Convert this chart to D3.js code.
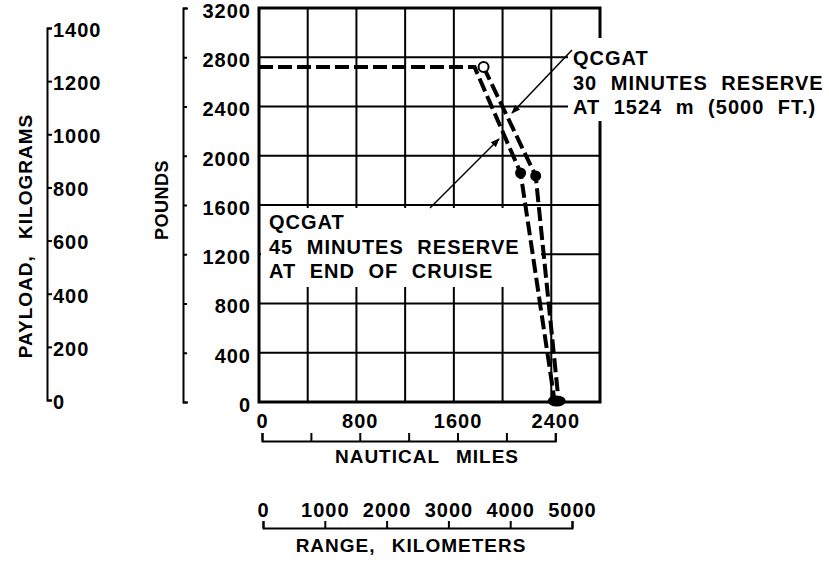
<!DOCTYPE html>
<html>
<head>
    <meta charset="utf-8">
    <title>QCGAT payload - range</title>
    <script src="https://d3js.org/d3.v7.min.js"></script>
    <style>
        body { margin: 0; background: #fff; }
        text { font-family: "Liberation Sans", Arial, sans-serif; font-weight: bold; fill: #000; }
    </style>
</head>
<body>
    <div id="chart"></div>

    <script>
        // Curves (range in nautical miles, payload in pounds)
        var range45 = [0, 1770, 2148, 2428];
        var payload45 = [2720, 2720, 1860, 0];
        var range30 = [1844, 2272, 2461];
        var payload30 = [2720, 1836, 0];

        // Axis ticks
        var nmTicks = [0, 400, 800, 1200, 1600, 2000, 2400, 2800];
        var nmLabels = [0, 800, 1600, 2400];
        var lbTicks = [0, 400, 800, 1200, 1600, 2000, 2400, 2800, 3200];
        var kgTicks = [0, 200, 400, 600, 800, 1000, 1200, 1400];
        var kmTicks = [0, 1000, 2000, 3000, 4000, 5000];

        var svg = d3.select("#chart")
            .append("svg")
            .attr("width", 829)
            .attr("height", 563);

        var x = d3.scaleLinear().domain([0, 2800]).range([259, 600]);
        var y = d3.scaleLinear().domain([0, 3200]).range([402, 8]);
        var yKg = d3.scaleLinear().domain([0, 1400]).range([400, 28]);
        var xKm = d3.scaleLinear().domain([0, 5000]).range([263, 572]);

        // grid
        var grid = svg.append("g").attr("stroke", "#000").attr("stroke-width", 2);
        grid.selectAll(".v")
            .data(nmTicks)
            .enter().append("line")
            .attr("x1", function (d) { return x(d); })
            .attr("x2", function (d) { return x(d); })
            .attr("y1", y(0))
            .attr("y2", y(3200));
        grid.selectAll(".h")
            .data(lbTicks)
            .enter().append("line")
            .attr("x1", x(0))
            .attr("x2", x(2800))
            .attr("y1", function (d) { return y(d); })
            .attr("y2", function (d) { return y(d); });

        // frame
        svg.append("rect")
            .attr("x", x(0)).attr("y", y(3200))
            .attr("width", x(2800) - x(0)).attr("height", y(0) - y(3200))
            .attr("fill", "none").attr("stroke", "#000").attr("stroke-width", 3);

        // white label boxes over the grid
        svg.append("rect").attr("x", 568).attr("y", 38).attr("width", 261).attr("height", 83).attr("fill", "#fff");
        svg.append("rect").attr("x", 261).attr("y", 208).attr("width", 280).attr("height", 79).attr("fill", "#fff");

        // curves
        var line = d3.line()
            .x(function (d) { return x(d[0]); })
            .y(function (d) { return y(d[1]); });

        var curves = [d3.zip(range45, payload45), d3.zip(range30, payload30)];
        svg.selectAll(".curve")
            .data(curves)
            .enter().append("path")
            .attr("d", line)
            .attr("fill", "none")
            .attr("stroke", "#000")
            .attr("stroke-width", 4)
            .attr("stroke-dasharray", "14,5");

        // markers
        svg.append("circle")
            .attr("cx", x(range30[0])).attr("cy", y(payload30[0])).attr("r", 5)
            .attr("fill", "#fff").attr("stroke", "#000").attr("stroke-width", 2);
        svg.selectAll(".dot")
            .data([[range45[2], payload45[2]], [range30[1], payload30[1]]])
            .enter().append("circle")
            .attr("cx", function (d) { return x(d[0]); })
            .attr("cy", function (d) { return y(d[1]); })
            .attr("r", 5.5);
        svg.append("ellipse")
            .attr("cx", (x(range45[3]) + x(range30[2])) / 2).attr("cy", y(0) - 1)
            .attr("rx", 9).attr("ry", 5.5);

        // leader arrows
        svg.append("defs").append("marker")
            .attr("id", "arr")
            .attr("viewBox", "0 0 10 10")
            .attr("refX", 9).attr("refY", 5)
            .attr("markerWidth", 9).attr("markerHeight", 9)
            .attr("markerUnits", "userSpaceOnUse")
            .attr("orient", "auto")
            .append("path").attr("d", "M0,1L10,5L0,9Z");
        svg.append("line")
            .attr("x1", 572).attr("y1", 50).attr("x2", 512).attr("y2", 113)
            .attr("stroke", "#000").attr("stroke-width", 1.5).attr("marker-end", "url(#arr)");
        svg.append("line")
            .attr("x1", 430).attr("y1", 208).attr("x2", 499).attr("y2", 139)
            .attr("stroke", "#000").attr("stroke-width", 1.5).attr("marker-end", "url(#arr)");

        // annotation text
        function block(x0, y0, lines) {
            var t = svg.append("text")
                .attr("font-size", 20)
                .attr("letter-spacing", 1)
                .attr("word-spacing", 7);
            lines.forEach(function (s, i) {
                t.append("tspan").attr("x", x0).attr("y", y0 + i * 24.5).text(s);
            });
        }
        block(573, 65, ["QCGAT", "30 MINUTES RESERVE", "AT 1524 m (5000 FT.)"]);
        block(269, 229, ["QCGAT", "45 MINUTES RESERVE", "AT END OF CRUISE"]);

        function styleAxis(g) {
            g.attr("font-family", null).attr("font-size", 20);
            g.selectAll("path, line").attr("stroke", "#000").attr("stroke-width", 2);
            g.selectAll("text").attr("fill", "#000").attr("letter-spacing", 1);
        }

        // pounds axis
        var gLb = svg.append("g")
            .attr("transform", "translate(183,0)")
            .call(d3.axisRight(y).tickValues(lbTicks).tickSize(4).tickSizeOuter(5).tickFormat(d3.format("d")));
        styleAxis(gLb);
        gLb.selectAll("text").attr("x", 68).attr("y", 3).attr("text-anchor", "end");

        // kilogram axis
        var gKg = svg.append("g")
            .attr("transform", "translate(47,0)")
            .call(d3.axisRight(yKg).tickValues(kgTicks).tickSize(5).tickSizeOuter(5).tickFormat(d3.format("d")));
        styleAxis(gKg);
        gKg.selectAll("text").attr("x", 6).attr("y", 2);

        // nautical miles axis
        var gNm = svg.append("g")
            .attr("transform", "translate(0,441)")
            .call(d3.axisTop(x.copy().domain([0, 2400]).range([x(0) + 3, x(2400) + 4])).tickValues(nmTicks.slice(0, 7)).tickSize(8).tickSizeOuter(8)
                .tickFormat(function (d) { return nmLabels.indexOf(d) >= 0 ? d : ""; }));
        styleAxis(gNm);
        gNm.selectAll("text").attr("y", -13);

        // kilometre axis
        var gKm = svg.append("g")
            .attr("transform", "translate(0,528)")
            .call(d3.axisTop(xKm).tickValues(kmTicks).tickSize(7).tickSizeOuter(7).tickFormat(d3.format("d")));
        styleAxis(gKm);
        gKm.selectAll("text").attr("y", -11);

        // axis titles
        svg.append("text").attr("x", 427).attr("y", 463).attr("text-anchor", "middle")
            .attr("font-size", 19).attr("letter-spacing", 1).attr("word-spacing", 10).text("NAUTICAL MILES");
        svg.append("text").attr("x", 411).attr("y", 552).attr("text-anchor", "middle")
            .attr("font-size", 19).attr("letter-spacing", 1).attr("word-spacing", 10).text("RANGE, KILOMETERS");
        svg.append("text").attr("transform", "translate(168,200) rotate(-90)").attr("text-anchor", "middle")
            .attr("font-size", 18).attr("letter-spacing", 0.5).text("POUNDS");
        svg.append("text").attr("transform", "translate(32,236) rotate(-90)").attr("text-anchor", "middle")
            .attr("font-size", 19).attr("letter-spacing", 1).attr("word-spacing", 10).text("PAYLOAD, KILOGRAMS");
    </script>
</body>
</html>
